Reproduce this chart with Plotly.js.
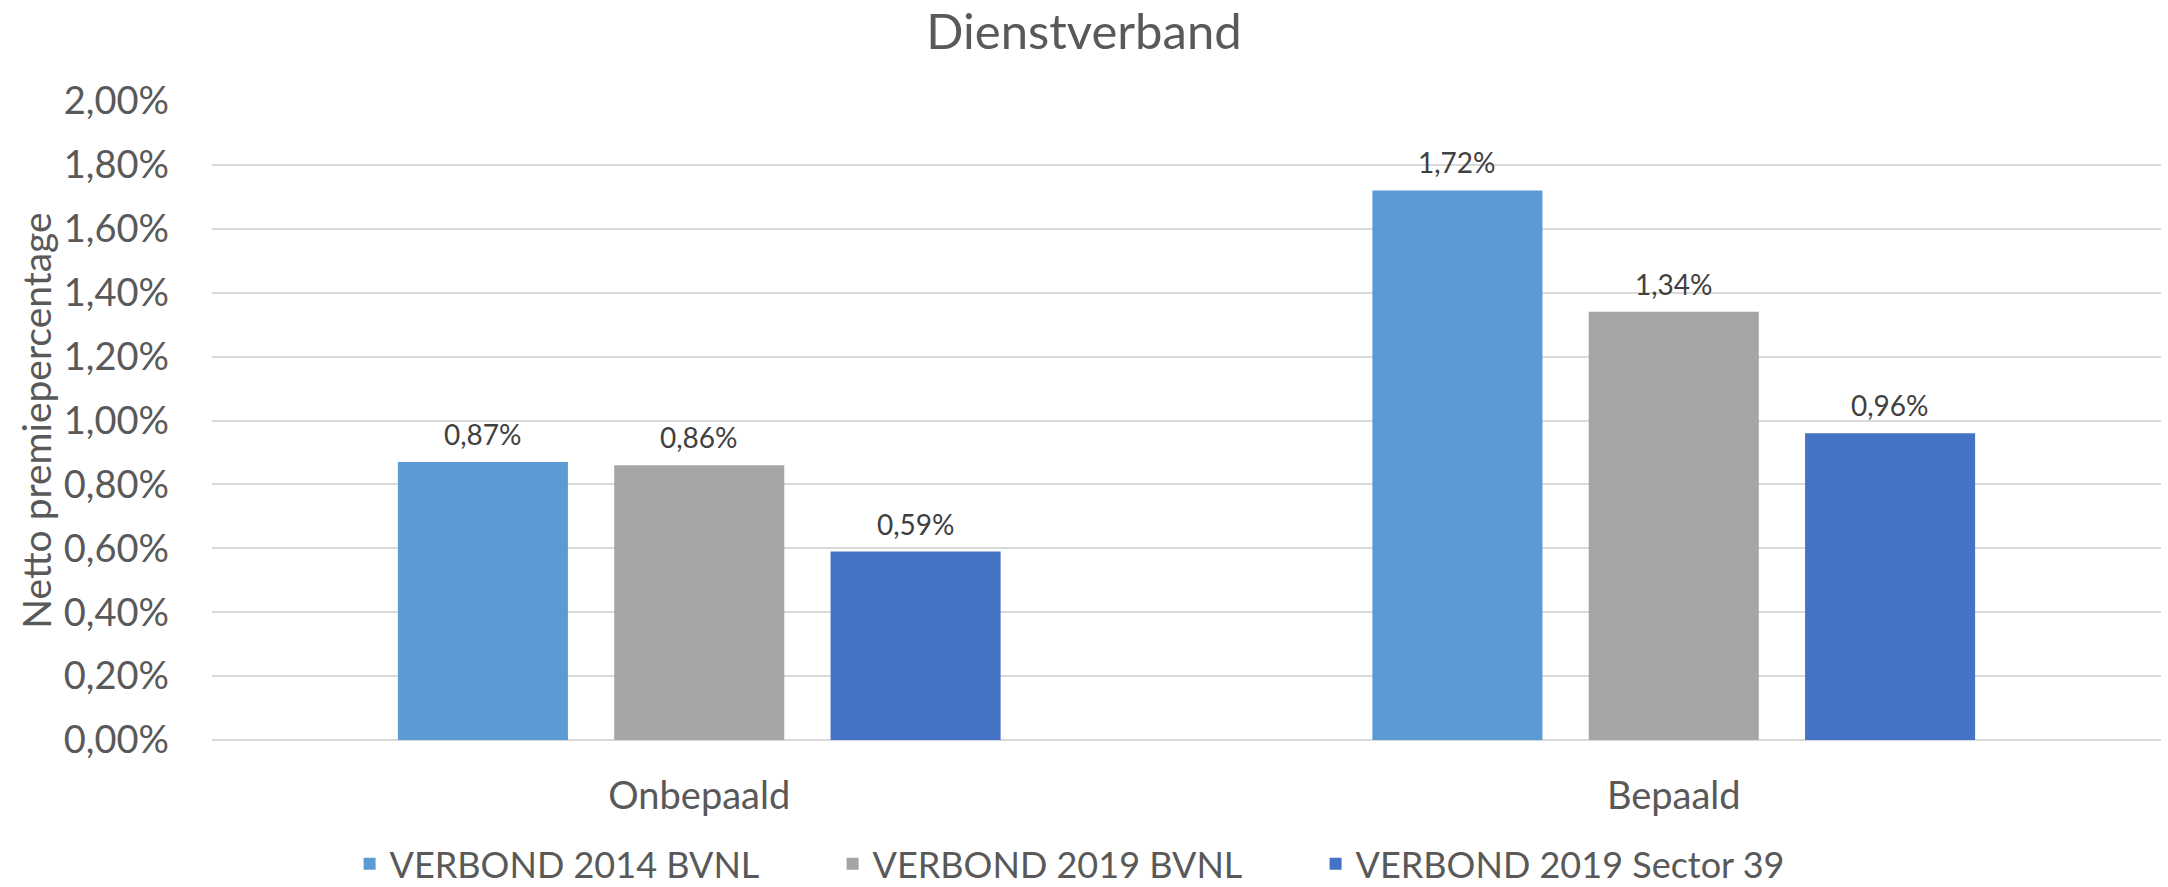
<!DOCTYPE html>
<html>
<head>
<meta charset="utf-8">
<script src="https://cdn.plot.ly/plotly-3.0.1.min.js"></script>
<style>
  html, body { margin: 0; padding: 0; background: #ffffff; }
  #chart { width: 2168px; height: 887px; }
</style>
</head>
<body>
<div id="chart"></div>
<script>
// ---- data ----
const categories = ['Onbepaald', 'Bepaald'];
const seriesNames = ['VERBOND 2014 BVNL', 'VERBOND 2019 BVNL', 'VERBOND 2019 Sector 39'];
const verbond2014BVNL = [0.87, 1.72];
const verbond2019BVNL = [0.86, 1.34];
const verbond2019Sector39 = [0.59, 0.96];
const seriesColors = ['#5B9BD5', '#A5A5A5', '#4472C4'];
const yTickValues = [0, 0.2, 0.4, 0.6, 0.8, 1.0, 1.2, 1.4, 1.6, 1.8, 2.0];

const FONT = 'Lato, "Liberation Sans", sans-serif';
const fmt = v => v.toFixed(2).replace('.', ',') + '%';

const BARGAP = 0.334;
const BARGROUPGAP = 0.214;

const seriesValues = [verbond2014BVNL, verbond2019BVNL, verbond2019Sector39];
const traces = seriesValues.map((vals, i) => ({
  type: 'bar',
  name: seriesNames[i],
  x: categories,
  y: vals,
  marker: { color: seriesColors[i], line: { width: 0 } },
  hoverinfo: 'skip'
}));

// data labels, placed above each bar of the grouped layout
const slot = (1 - BARGAP) / seriesValues.length;
const annotations = [];
seriesValues.forEach((vals, i) => {
  vals.forEach((v, c) => {
    annotations.push({
      xref: 'x', yref: 'y',
      x: c + (i - (seriesValues.length - 1) / 2) * slot,
      y: v,
      text: fmt(v),
      showarrow: false,
      xanchor: 'center',
      yanchor: 'bottom',
      yshift: 9,
      font: { family: FONT, size: 28, color: '#404040' }
    });
  });
});

const layout = {
  width: 2168,
  height: 887,
  paper_bgcolor: '#ffffff',
  plot_bgcolor: '#ffffff',
  margin: { l: 212, r: 7, t: 101, b: 147, pad: 0 },
  separators: ',.',
  barmode: 'group',
  bargap: BARGAP,
  bargroupgap: BARGROUPGAP,
  title: {
    text: 'Dienstverband',
    font: { family: FONT, size: 49, color: '#595959' },
    x: 0.5,
    xanchor: 'center',
    xref: 'container',
    yref: 'container',
    y: 0.964,
    yanchor: 'middle'
  },
  xaxis: {
    type: 'category',
    categoryorder: 'array',
    categoryarray: categories,
    range: [-0.5, 1.5],
    showgrid: false,
    showline: false,
    zeroline: false,
    ticks: '',
    ticklabelstandoff: 30,
    tickfont: { family: FONT, size: 38, color: '#595959' },
    automargin: false
  },
  yaxis: {
    range: [0, 2.0],
    tickmode: 'array',
    tickvals: yTickValues,
    ticktext: yTickValues.map(fmt),
    showgrid: true,
    gridcolor: '#D9D9D9',
    gridwidth: 2,
    zeroline: true,
    zerolinecolor: '#D9D9D9',
    zerolinewidth: 2,
    showline: false,
    ticks: '',
    ticklabelstandoff: 42,
    tickfont: { family: FONT, size: 38, color: '#595959' },
    automargin: false,
    title: {
      text: 'Netto premiepercentage',
      font: { family: FONT, size: 39, color: '#595959' },
      standoff: 0
    }
  },
  legend: {
    orientation: 'h',
    x: 0.0706,
    xanchor: 'left',
    xref: 'paper',
    yref: 'container',
    y: 0.026,
    yanchor: 'middle',
    font: { family: FONT, size: 36, color: '#595959' },
    entrywidth: 438,
    entrywidthmode: 'pixels',
    bgcolor: 'rgba(0,0,0,0)',
    itemclick: false,
    itemdoubleclick: false
  },
  annotations: annotations,
  showlegend: true
};

Plotly.newPlot('chart', traces, layout, { displayModeBar: false, staticPlot: true });
</script>
</body>
</html>
